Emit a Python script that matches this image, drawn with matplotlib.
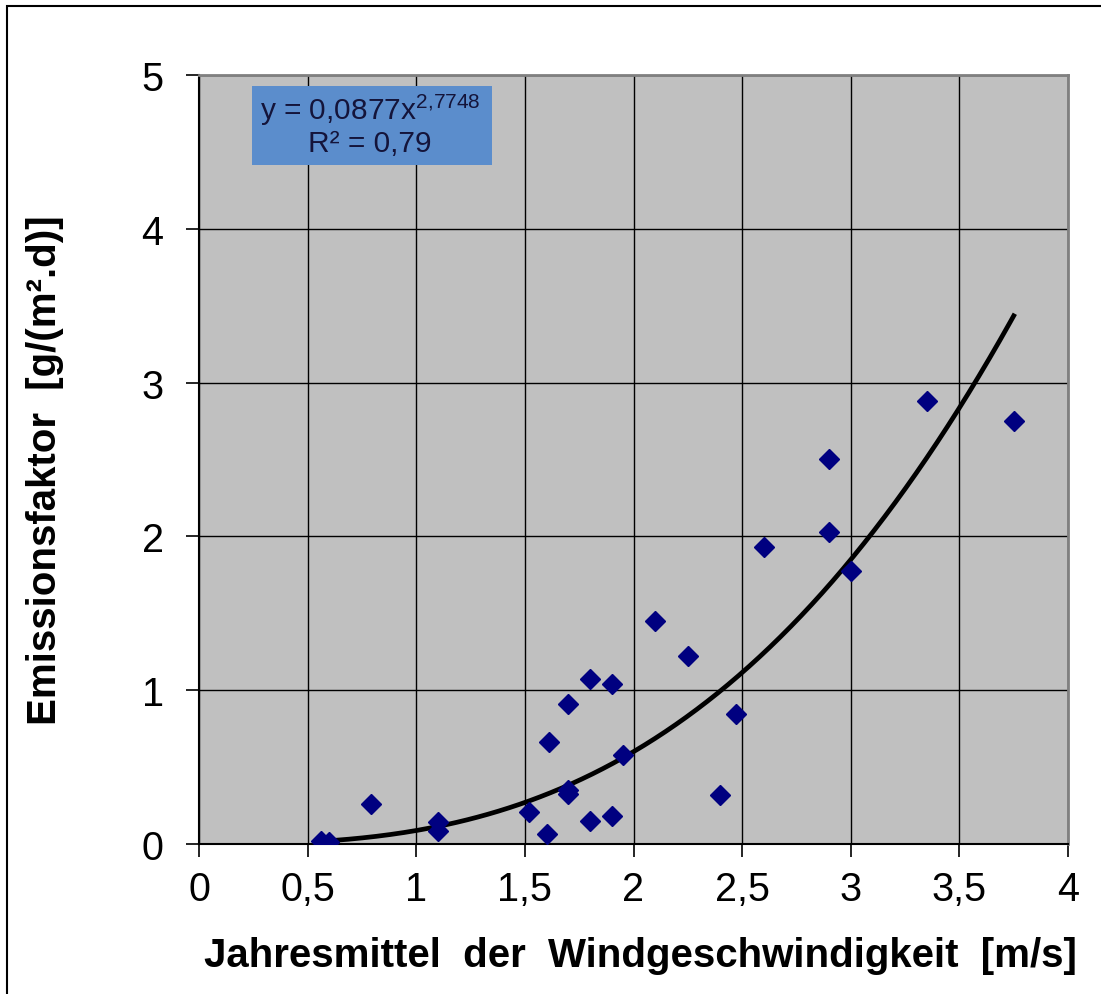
import matplotlib
matplotlib.use("Agg")
import matplotlib.pyplot as plt
import numpy as np
from matplotlib.patches import Rectangle

plt.rcParams['font.family'] = ['Liberation Sans', 'DejaVu Sans']
plt.rcParams['mathtext.fontset'] = 'custom'
plt.rcParams['mathtext.rm'] = 'Liberation Sans'
plt.rcParams['mathtext.it'] = 'Liberation Sans'

# wind speed (m/s) and emission factor (g/(m2.d))
wind = [0.56, 0.60, 0.79, 1.10, 1.10, 1.52, 1.60, 1.61, 1.70, 1.70, 1.70, 1.80, 1.80,
        1.90, 1.90, 1.95, 2.10, 2.25, 2.40, 2.47, 2.60, 2.90, 2.90, 3.00, 3.35, 3.75]
emission = [0.02, 0.01, 0.26, 0.14, 0.085, 0.21, 0.065, 0.66, 0.91, 0.35, 0.325, 1.07, 0.15,
            1.04, 0.185, 0.58, 1.45, 1.22, 0.32, 0.845, 1.93, 2.03, 2.505, 1.775, 2.88, 2.75]

# power trend line y = a * x^b
coef_a = 0.0877
coef_b = 2.7748
r_squared = "0,79"

x_ticks = [0, 0.5, 1, 1.5, 2, 2.5, 3, 3.5, 4]
x_ticklabels = ["0", "0,5", "1", "1,5", "2", "2,5", "3", "3,5", "4"]
y_ticks = [0, 1, 2, 3, 4, 5]
y_ticklabels = ["0", "1", "2", "3", "4", "5"]

fig = plt.figure(figsize=(11.01, 9.95), dpi=100)
ax = fig.add_axes([199 / 1101, 1 - 845 / 995, 869 / 1101, 769 / 995])
ax.set_facecolor('#C0C0C0')

xs = np.linspace(min(wind), max(wind), 200)
ax.plot(xs, coef_a * xs ** coef_b, color='black', lw=3.4, zorder=3)
ax.plot(wind, emission, ls='none', marker='D', ms=10, color='#000080',
        markeredgecolor='#000080', zorder=4)

ax.set_xlim(0, 4)
ax.set_ylim(0, 5)
ax.set_xticks(x_ticks)
ax.set_xticklabels(x_ticklabels)
ax.set_yticks(y_ticks)
ax.set_yticklabels(y_ticklabels)
ax.grid(True, color='black', lw=1.0, zorder=1)
ax.set_axisbelow(True)
ax.tick_params(axis='both', direction='out', length=9.5, width=1.2, labelsize=28.5,
               colors='black')
ax.tick_params(axis='x', pad=9)
ax.tick_params(axis='y', pad=16)

for side in ['top', 'right']:
    ax.spines[side].set_color('#808080')
    ax.spines[side].set_linewidth(2)
for side in ['left', 'bottom']:
    ax.spines[side].set_color('black')
    ax.spines[side].set_linewidth(1.5)

# equation box
ax.add_patch(Rectangle((0.061, 0.883), 0.276, 0.103, transform=ax.transAxes,
                       facecolor='#5B8DCC', edgecolor='none', zorder=5))
ax.text(0.197, 0.955, r"y = 0,0877x$^{2{,}7748}$", transform=ax.transAxes,
        ha='center', va='center', fontsize=21.5, color='#14143a', zorder=6)
ax.text(0.197, 0.911, "R² = " + r_squared, transform=ax.transAxes,
        ha='center', va='center', fontsize=21.5, color='#14143a', zorder=6)

fig.text(640 / 1101, 1 - 967 / 995, "Jahresmittel  der  Windgeschwindigkeit  [m/s]",
         ha='center', va='baseline', fontsize=29, fontweight='bold')
fig.text(45 / 1101, 1 - 470 / 995, "Emissionsfaktor  [g/(m².d)]",
         ha='center', va='center', rotation=90, fontsize=29, fontweight='bold')

# outer frame (right and bottom edges lie outside the picture)
fig.patches.append(Rectangle((7 / 1101, -0.1), 1.2, 1 - 7 / 995 + 0.1,
                             transform=fig.transFigure, fill=False,
                             edgecolor='black', lw=1.5))

fig.savefig("out.png", dpi=100)
